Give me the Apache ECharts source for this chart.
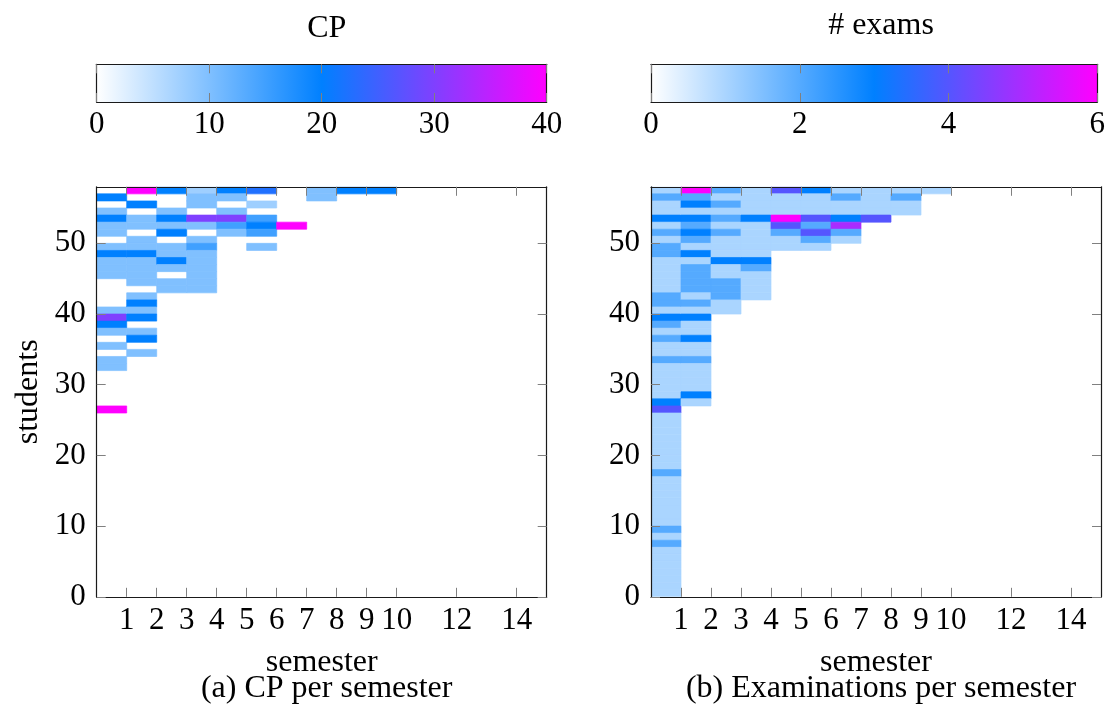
<!DOCTYPE html>
<html><head><meta charset="utf-8">
<script src="https://cdn.jsdelivr.net/npm/echarts@6/dist/echarts.min.js"></script>
<style>html,body{margin:0;padding:0;background:#fff}#c{width:1108px;height:727px}</style>
</head><body><div id="c"></div>
<script>
const FONT = "'Liberation Serif','DejaVu Serif',serif";
const colormap = ['#ffffff', '#0080ff', '#ff00ff'];
const semesterTicks = [1, 2, 3, 4, 5, 6, 7, 8, 9, 10, 12, 14];
const studentTicks = [0, 10, 20, 30, 40, 50];
const cpTicks = [0, 10, 20, 30, 40];
const examTicks = [0, 2, 4, 6];
const topStudent = 57;

// CP per semester: each list runs from student 57 downward
const cpSem1 = [0,20,0,10,20,10,10,0,10,20,10,10,10,0,0,0,0,10,30,20,10,0,10,0,10,10,0,0,0,0,0,40];
const cpSem2 = [40,0,20,0,10,10,0,10,10,20,10,10,10,10,0,10,20,10,20,0,10,20,0,10];
const cpSem3 = [20,0,0,10,20,10,20,0,10,10,20,10,0,10,10];
const cpSem4 = [7.5,10,10,0,30,10,0,10,15,10,10,10,10,10,10];
const cpSem5 = [20,10,0,10,30,15,10];
const cpSem6 = [22.5,0,7.5,0,15,20,15,0,10];
const cpSem7 = [0,0,0,0,0,40];
const cpSem8 = [10,10];
const cpSem9 = [20];
const cpSem10 = [20];

// number of exams per semester: each list runs from student 57 downward
const exSem1 = [1,2,1,1,3,1,2,1,2,2,1,1,1,1,1,2,2,1,3,2,1,2,1,1,2,1,1,1,1,1,3,4,
                1,1,1,1,1,1,1,1,2,1,1,1,1,1,1,1,2,1,2,1,1,1,1,1,1,1];
const exSem2 = [6,2,3,1,3,2,3,2,1,3,1,2,2,2,2,1,2,1,3,1,1,3,1,1,2,1,1,1,1,3,1];
const exSem3 = [2,1,2,1,2,1,2,1,1,1,3,1,1,2,2,2,1,1];
const exSem4 = [1,1,1,1,3,1,1,1,1,1,3,2,1,1,1,1];
const exSem5 = [4,1,1,1,6,4,2,1,1];
const exSem6 = [3,1,1,1,4,2,4,2,1];
const exSem7 = [1,2,1,1,3,5,2,1];
const exSem8 = [1,1,1,1,4];
const exSem9 = [1,2,1,1];
const exSem10 = [1];

const cpLists = [cpSem1,cpSem2,cpSem3,cpSem4,cpSem5,cpSem6,cpSem7,cpSem8,cpSem9,cpSem10];
const exLists = [exSem1,exSem2,exSem3,exSem4,exSem5,exSem6,exSem7,exSem8,exSem9,exSem10];

function toCells(lists) {
  const out = [];
  lists.forEach((vals, i) => {
    vals.forEach((v, k) => { if (v > 0) out.push([i + 1, topStudent - k, v]); });
  });
  return out;
}

function cellItem(params, api) {
  const s = api.value(0), st = api.value(1);
  const a = api.coord([s - 1, st + 1]);
  const b = api.coord([s, st]);
  const c = api.visual('color');
  return { type: 'rect', shape: { x: a[0], y: a[1], width: b[0] - a[0], height: b[1] - a[1] },
           style: { fill: c, stroke: c, lineWidth: 0.7 } };
}
function barItem(params, api) {
  const a = api.coord([api.value(0), 1]);
  const b = api.coord([api.value(1), 0]);
  const stops = colormap.map((c, i) => ({ offset: i / (colormap.length - 1), color: c }));
  return { type: 'rect', shape: { x: a[0], y: a[1], width: b[0] - a[0], height: b[1] - a[1] },
           style: { fill: new echarts.graphic.LinearGradient(0, 0, 1, 0, stops) } };
}

const LINE = { show: true, onZero: false, lineStyle: { color: '#1a1a1a', width: 1.2 } };
const TICK = { show: true, inside: true, length: 9, lineStyle: { color: '#808080', width: 1 } };
const LBL = { color: '#000', fontFamily: FONT, fontSize: 31 };

const plotW = 450, plotH = 410, barH = 37.7, plotTop = 186.8, barTop = 64.3;
const lefts = [96.7, 651];

const grids = [], xAxes = [], yAxes = [], series = [];
// colorbars: grid 0,1 ; heatmaps: grid 2,3
[[cpTicks, 40], [examTicks, 6]].forEach(([ticks, max], i) => {
  grids.push({ left: lefts[i], top: barTop, width: plotW, height: barH });
  xAxes.push({ gridIndex: i, type: 'value', min: 0, max: max, position: 'bottom', z: 10,
    axisLine: LINE, axisTick: Object.assign({}, TICK, { customValues: ticks }),
    axisLabel: Object.assign({}, LBL, { margin: 7, customValues: ticks }), splitLine: { show: false } });
  xAxes.push({ gridIndex: i, type: 'value', min: 0, max: max, position: 'top', z: 10,
    axisLine: LINE, axisTick: Object.assign({}, TICK, { customValues: ticks }),
    axisLabel: { show: false }, splitLine: { show: false } });
  yAxes.push({ gridIndex: i, type: 'value', min: 0, max: 1, position: 'left', z: 10,
    axisLine: LINE, axisTick: { show: false }, axisLabel: { show: false }, splitLine: { show: false } });
  yAxes.push({ gridIndex: i, type: 'value', min: 0, max: 1, position: 'right', z: 10,
    axisLine: LINE, axisTick: { show: false }, axisLabel: { show: false }, splitLine: { show: false } });
  series.push({ type: 'custom', xAxisIndex: 2 * i, yAxisIndex: 2 * i, renderItem: barItem,
    data: [[0, max]], silent: true, z: 2 });
});
[toCells(cpLists), toCells(exLists)].forEach((cells, i) => {
  const g = i + 2;
  grids.push({ left: lefts[i], top: plotTop, width: plotW, height: plotH });
  xAxes.push({ gridIndex: g, type: 'value', min: 0, max: 15, position: 'bottom', z: 10,
    name: 'semester', nameLocation: 'middle', nameGap: 50,
    nameTextStyle: { color: '#000', fontFamily: FONT, fontSize: 32 },
    axisLine: LINE, axisTick: Object.assign({}, TICK, { customValues: semesterTicks }),
    axisLabel: Object.assign({}, LBL, { margin: 9, customValues: semesterTicks }), splitLine: { show: false } });
  xAxes.push({ gridIndex: g, type: 'value', min: 0, max: 15, position: 'top', z: 10,
    axisLine: LINE, axisTick: Object.assign({}, TICK, { customValues: semesterTicks }),
    axisLabel: { show: false }, splitLine: { show: false } });
  yAxes.push({ gridIndex: g, type: 'value', min: 0, max: 58, position: 'left', z: 10,
    name: i === 0 ? 'students' : '', nameLocation: 'middle', nameGap: 52, nameRotate: 90,
    nameTextStyle: { color: '#000', fontFamily: FONT, fontSize: 32 },
    axisLine: LINE, axisTick: Object.assign({}, TICK, { customValues: studentTicks }),
    axisLabel: Object.assign({}, LBL, { margin: 11, customValues: studentTicks }), splitLine: { show: false } });
  yAxes.push({ gridIndex: g, type: 'value', min: 0, max: 58, position: 'right', z: 10,
    axisLine: LINE, axisTick: Object.assign({}, TICK, { customValues: studentTicks }),
    axisLabel: { show: false }, splitLine: { show: false } });
  series.push({ type: 'custom', xAxisIndex: 2 * g, yAxisIndex: 2 * g, renderItem: cellItem,
    encode: { x: 0, y: 1 }, data: cells, clip: true, silent: true, z: 2 });
});

const chart = echarts.init(document.getElementById('c'), null, { renderer: 'canvas' });
chart.setOption({
  backgroundColor: '#ffffff',
  animation: false,
  title: [
    { text: 'CP', left: 321.7, top: 8, textAlign: 'center', textStyle: { fontFamily: FONT, fontSize: 32, fontWeight: 'normal', color: '#000' } },
    { text: '# exams', left: 876, top: 5, textAlign: 'center', textStyle: { fontFamily: FONT, fontSize: 32, fontWeight: 'normal', color: '#000' } },
    { text: '(a) CP per semester', left: 321.7, top: 668, textAlign: 'center', textStyle: { fontFamily: FONT, fontSize: 32, fontWeight: 'normal', color: '#000' } },
    { text: '(b) Examinations per semester', left: 876, top: 668, textAlign: 'center', textStyle: { fontFamily: FONT, fontSize: 32, fontWeight: 'normal', color: '#000' } }
  ],
  visualMap: [
    { type: 'continuous', show: false, min: 0, max: 40, dimension: 2, seriesIndex: 2, inRange: { color: colormap } },
    { type: 'continuous', show: false, min: 0, max: 6, dimension: 2, seriesIndex: 3, inRange: { color: colormap } }
  ],
  grid: grids, xAxis: xAxes, yAxis: yAxes, series: series
});
</script></body></html>
